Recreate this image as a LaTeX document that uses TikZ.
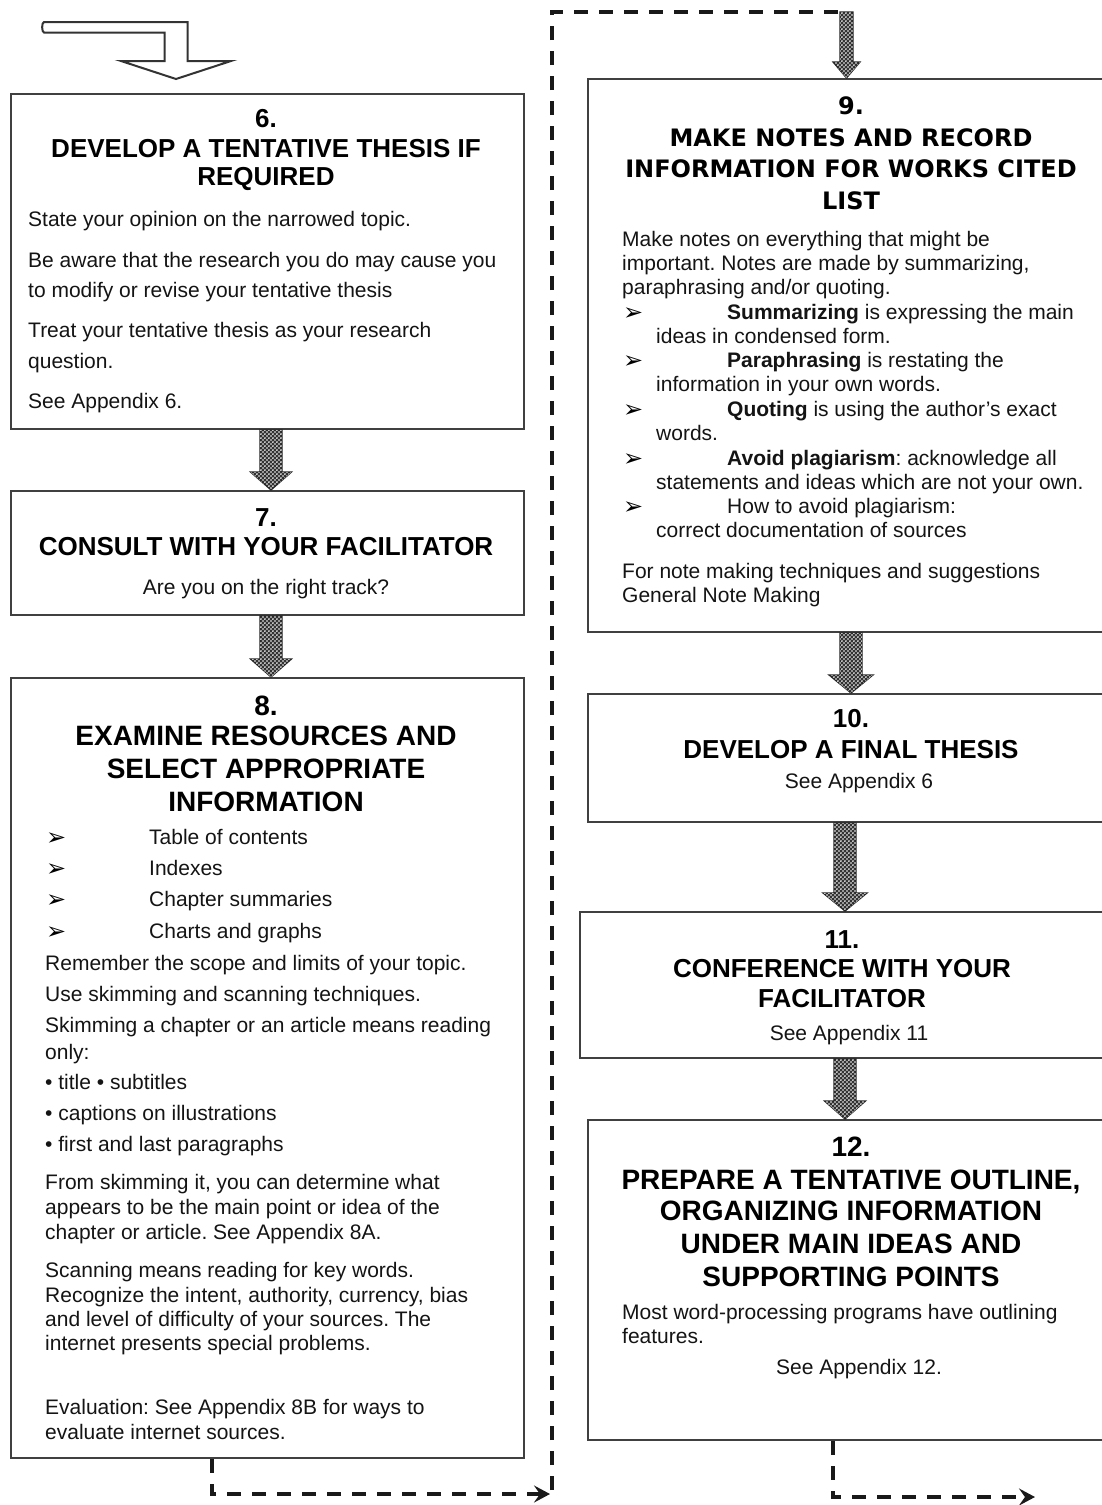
\documentclass[tikz,border=0pt]{standalone}
\usepackage{fontspec}
\setmainfont{Liberation Sans}
\newfontfamily\dvs{DejaVu Sans}
\usetikzlibrary{patterns,arrows.meta,calc}
\frenchspacing
\pgfdeclarepatternformonly{wdots}{\pgfpointorigin}{\pgfqpoint{4.4pt}{4.4pt}}{\pgfqpoint{4.4pt}{4.4pt}}{%
  \pgfpathcircle{\pgfqpoint{1.1pt}{1.1pt}}{1.05pt}%
  \pgfpathcircle{\pgfqpoint{3.3pt}{3.3pt}}{1.05pt}%
  \pgfusepath{fill}}
\tikzset{
  box/.style={draw=black!75,line width=2pt,fill=white,inner sep=0pt,anchor=north west},
  body/.style={font=\fontsize{21}{24}\selectfont,text=black!92,inner sep=0pt},
  ttl/.style={font=\fontsize{26}{30}\selectfont\bfseries,text=black,inner sep=0pt,anchor=base},
  ttlb/.style={font=\fontsize{28}{33}\selectfont\bfseries,text=black,inner sep=0pt,anchor=base},
  ttlv/.style={font=\dvs\bfseries\fontsize{24}{30}\selectfont,text=black,inner sep=0pt,anchor=base},
  blk/.style={fill=black!80,draw=black!85,line width=1.2pt,line join=miter,
    postaction={pattern=wdots,pattern color=white}},
  dashconn/.style={line width=3.5pt,dash pattern=on 14pt off 11pt,draw=black!90},
  tip/.style={-{Stealth[length=16pt,width=17pt,inset=6pt]}},
}
\newcommand\TL[4]{\node[body,anchor=base west] (#1) at (#2,#3) {#4};}
\newcommand\TC[4]{\node[body,anchor=base] (#1) at (#2,#3) {#4};}
\newcommand\AB[3]{\node[inner sep=0pt,anchor=base west,font=\dvs\bfseries\fontsize{24}{24}\selectfont,text=black] (#1) at (#2,#3) {➢};}
% block arrow: from anchor, to anchor, x, shaft half width, head half width, head length
\newcommand\blockarrow[6]{%
  \filldraw[blk] let \p1=(#1), \p2=(#2) in
   (#3pt-#4pt,\y1) -- (#3pt+#4pt,\y1) -- (#3pt+#4pt,\y2+#6pt) -- (#3pt+#5pt,\y2+#6pt)
   -- (#3pt,\y2) -- (#3pt-#5pt,\y2+#6pt) -- (#3pt-#4pt,\y2+#6pt) -- cycle;}
\begin{document}
\begin{tikzpicture}[x=1pt,y=-1pt]
\useasboundingbox (0,0) rectangle (1102,1505);
\clip (0,0) rectangle (1102,1505);
\fill[white] (0,0) rectangle (1102,1505);

% ---------- boxes ----------
\node[box,minimum width=513,minimum height=335] (b6) at (10,93) {};
\node[box,minimum width=513,minimum height=124] (b7) at (10,490) {};
\node[box,minimum width=513,minimum height=780] (b8) at (10,677) {};
\node[box,minimum width=528,minimum height=553] (b9) at (587,78) {};
\node[box,minimum width=528,minimum height=128] (b10) at (587,693) {};
\node[box,minimum width=526,minimum height=146] (b11) at (579,911) {};
\node[box,minimum width=528,minimum height=320] (b12) at (587,1119) {};

% ---------- entry arrow (hollow, bent) ----------
\draw[line width=2pt,draw=black!80,line join=miter,fill=white]
  (44,22) -- (187.5,22) -- (187.5,61) -- (231,61) -- (176,79) -- (121,61)
  -- (164.5,61) -- (164.5,32.5) -- (44,32.5) to[out=180,in=180,looseness=0.6] cycle;

% ---------- box 6 ----------
\node[ttl] (t6n) at (266,127) {6.};
\node[ttl] (t6a) at (266,157) {DEVELOP A TENTATIVE THESIS IF};
\node[ttl] (t6b) at (266,185) {REQUIRED};
\TL{p6a}{28}{226}{State your opinion on the narrowed topic.}
\TL{p6b}{28}{267}{Be aware that the research you do may cause you}
\TL{p6c}{28}{297}{to modify or revise your tentative thesis}
\TL{p6d}{28}{337}{Treat your tentative thesis as your research}
\TL{p6e}{28}{368}{question.}
\TL{p6f}{28}{408}{See Appendix 6.}

% ---------- box 7 ----------
\node[ttl] (t7n) at (266,526) {7.};
\node[ttl] (t7a) at (266,555) {CONSULT WITH YOUR FACILITATOR};
\TC{p7a}{266}{594}{Are you on the right track?}

% ---------- box 8 ----------
\node[ttlb] (t8n) at (266,715) {8.};
\node[ttlb] (t8a) at (266,745) {EXAMINE RESOURCES AND};
\node[ttlb] (t8b) at (266,778) {SELECT APPROPRIATE};
\node[ttlb] (t8c) at (266,811) {INFORMATION};
\AB{q8a}{46}{845}\TL{p8a}{149}{844}{Table of contents}
\AB{q8b}{46}{876}\TL{p8b}{149}{875}{Indexes}
\AB{q8c}{46}{907}\TL{p8c}{149}{906}{Chapter summaries}
\AB{q8d}{46}{939}\TL{p8d}{149}{938}{Charts and graphs}
\TL{p8e}{45}{970}{Remember the scope and limits of your topic.}
\TL{p8f}{45}{1001}{Use skimming and scanning techniques.}
\TL{p8g}{45}{1032}{Skimming a chapter or an article means reading}
\TL{p8h}{45}{1059}{only:}
\TL{p8i}{45}{1089}{• title • subtitles}
\TL{p8j}{45}{1120}{• captions on illustrations}
\TL{p8k}{45}{1151}{• first and last paragraphs}
\TL{p8l}{45}{1189}{From skimming it, you can determine what}
\TL{p8m}{45}{1214}{appears to be the main point or idea of the}
\TL{p8n}{45}{1239}{chapter or article. See Appendix 8A.}
\TL{p8o}{45}{1277}{Scanning means reading for key words.}
\TL{p8p}{45}{1302}{Recognize the intent, authority, currency, bias}
\TL{p8q}{45}{1326}{and level of difficulty of your sources. The}
\TL{p8r}{45}{1350}{internet presents special problems.}
\TL{p8s}{45}{1414}{Evaluation: See Appendix 8B for ways to}
\TL{p8t}{45}{1439}{evaluate internet sources.}

% ---------- box 9 ----------
\node[ttlv] (t9n) at (851,114) {9.};
\node[ttlv] (t9a) at (851,146) {MAKE NOTES AND RECORD};
\node[ttlv] (t9b) at (851,177) {INFORMATION FOR WORKS CITED};
\node[ttlv] (t9c) at (851,209) {LIST};
\TL{p9a}{622}{246}{Make notes on everything that might be}
\TL{p9b}{622}{270}{important. Notes are made by summarizing,}
\TL{p9c}{622}{294}{paraphrasing and/or quoting.}
\AB{q9a}{623}{320}\TL{p9d}{727}{319}{\textbf{Summarizing} is expressing the main}
\TL{p9e}{656}{343}{ideas in condensed form.}
\AB{q9b}{623}{368}\TL{p9f}{727}{367}{\textbf{Paraphrasing} is restating the}
\TL{p9g}{656}{391}{information in your own words.}
\AB{q9c}{623}{417}\TL{p9h}{727}{416}{\textbf{Quoting} is using the author’s exact}
\TL{p9i}{656}{440}{words.}
\AB{q9d}{623}{466}\TL{p9j}{727}{465}{\textbf{Avoid plagiarism}: acknowledge all}
\TL{p9k}{656}{489}{statements and ideas which are not your own.}
\AB{q9e}{623}{514}\TL{p9l}{727}{513}{How to avoid plagiarism:}
\TL{p9m}{656}{537}{correct documentation of sources}
\TL{p9n}{622}{578}{For note making techniques and suggestions}
\TL{p9o}{622}{602}{General Note Making}

% ---------- box 10 ----------
\node[ttl] (t10n) at (851,727) {10.};
\node[ttl] (t10a) at (851,758) {DEVELOP A FINAL THESIS};
\TC{p10a}{859}{788}{See Appendix 6}

% ---------- box 11 ----------
\node[ttl] (t11n) at (842,948) {11.};
\node[ttl] (t11a) at (842,977) {CONFERENCE WITH YOUR};
\node[ttl] (t11b) at (842,1007) {FACILITATOR};
\TC{p11a}{849}{1040}{See Appendix 11}

% ---------- box 12 ----------
\node[ttlb] (t12n) at (851,1156) {12.};
\node[ttlb] (t12a) at (851,1189) {PREPARE A TENTATIVE OUTLINE,};
\node[ttlb] (t12b) at (851,1220) {ORGANIZING INFORMATION};
\node[ttlb] (t12c) at (851,1253) {UNDER MAIN IDEAS AND};
\node[ttlb] (t12d) at (851,1286) {SUPPORTING POINTS};
\TL{p12a}{622}{1319}{Most word-processing programs have outlining}
\TL{p12b}{622}{1343}{features.}
\TC{p12c}{859}{1374}{See Appendix 12.}

% ---------- block arrows ----------
\blockarrow{b6.south}{b7.north}{271}{11}{20.5}{18}
\blockarrow{b7.south}{b8.north}{271}{11}{20.5}{18}
\blockarrow{b9.south}{b10.north}{851}{11}{22}{18}
\blockarrow{b10.south}{b11.north}{845}{11}{22}{18}
\blockarrow{b11.south}{b12.north}{845}{11}{20.5}{18}
\coordinate (top9) at (846.5,12);
\blockarrow{top9}{b9.north}{846.5}{6.5}{13.5}{16}

% ---------- dashed connectors ----------
\coordinate (d1) at (212,1494);
\coordinate (d2) at (550,1494);
\draw[dashconn,tip] (b8.south -| d1) -- (d1) -- (d2);
\coordinate (d3) at (552,1490);
\coordinate (d4) at (552,12);
\draw[dashconn] (d3) -- (d4) -- ([xshift=-7pt]top9);
\coordinate (e1) at (833,1497);
\coordinate (e2) at (1035,1497);
\draw[dashconn,tip] (b12.south -| e1) -- (e1) -- (e2);
\end{tikzpicture}
\end{document}
